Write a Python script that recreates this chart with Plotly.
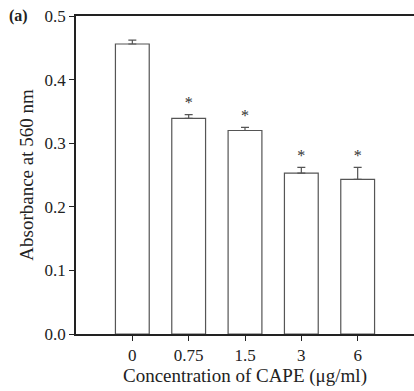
import plotly.graph_objects as go

categories = ["0", "0.75", "1.5", "3", "6"]
absorbance = [0.456, 0.339, 0.320, 0.253, 0.243]
sem = [0.006, 0.006, 0.005, 0.009, 0.019]
significance = ["", "*", "*", "*", "*"]
y_ticks = [0.0, 0.1, 0.2, 0.3, 0.4, 0.5]
y_ticklabels = ["0.0", "0.1", "0.2", "0.3", "0.4", "0.5"]

font_family = "Liberation Serif"
xpos = list(range(len(categories)))

fig = go.Figure()
fig.add_trace(go.Bar(
    x=xpos, y=absorbance, width=0.6,
    marker=dict(color="white", line=dict(color="#555555", width=1.2)),
    error_y=dict(type="data", array=sem, arrayminus=[0]*len(sem), symmetric=False,
                 color="#555555", thickness=1.2, width=4),
    showlegend=False,
))
fig.add_trace(go.Scatter(
    x=xpos, y=[a + e + 0.016 for a, e in zip(absorbance, sem)],
    mode="text", text=significance, textposition="middle center",
    textfont=dict(family=font_family, size=16, color="#333333"),
    showlegend=False, cliponaxis=False,
))

fig.update_layout(
    width=414, height=391,
    margin=dict(l=76, r=0, t=16, b=57),
    paper_bgcolor="white", plot_bgcolor="white",
    font=dict(family=font_family, size=17, color="#222222"),
    xaxis=dict(
        range=[-1, 5], tickmode="array", tickvals=xpos, ticktext=categories,
        showline=True, linecolor="#222222", linewidth=1.5, mirror=True,
        ticks="outside", ticklen=5, tickcolor="#222222", showgrid=False, zeroline=False,
        title=dict(text="Concentration of CAPE (μg/ml)", font=dict(size=19), standoff=4),
        tickfont=dict(size=17),
    ),
    yaxis=dict(
        range=[0, 0.5], tickmode="array", tickvals=y_ticks, ticktext=y_ticklabels,
        showline=True, linecolor="#222222", linewidth=1.5,
        ticks="outside", ticklen=5, tickcolor="#222222", showgrid=False, zeroline=False,
        title=dict(text="Absorbance at 560 nm", font=dict(size=19), standoff=6),
        tickfont=dict(size=17),
    ),
    annotations=[dict(text="<b>(a)</b>", x=-0.205, y=1.0, xref="paper", yref="paper",
                      xanchor="left", yanchor="middle",
                      showarrow=False, font=dict(size=16, family=font_family))],
)

fig.write_html("out.html")
